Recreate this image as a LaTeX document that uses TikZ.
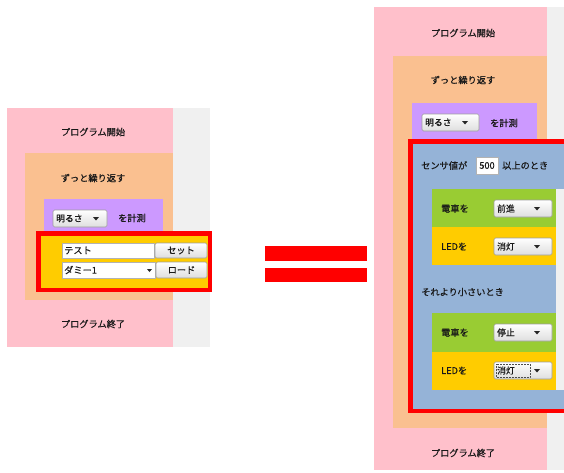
\documentclass[tikz,border=0pt]{standalone}
\usepackage{fontspec}
\setmainfont{Noto Sans CJK JP}[FakeBold=0.6]
\begin{document}
\begin{tikzpicture}[x=1pt,y=-1pt,
  lbl/.style={inner sep=0pt,font=\fontsize{9.2}{10}\selectfont,text=black!90},
  lblw/.style={lbl,anchor=west},
  ddbox/.style={draw=black!38,rounded corners=1.5pt,top color=white,bottom color=black!13,line width=0.6pt},
  tbox/.style={draw=black!30,fill=white,line width=0.6pt},
  redframe/.style={draw=red,line width=4.5pt}
]
\definecolor{cpink}{HTML}{FFC0CB}
\definecolor{corange}{HTML}{FAC090}
\definecolor{cpurple}{HTML}{CC99FF}
\definecolor{cyellow}{HTML}{FFCC00}
\definecolor{cgreen}{HTML}{99CC33}
\definecolor{cblue}{HTML}{95B3D7}
\definecolor{cgray}{HTML}{F0F0F0}
\useasboundingbox (0,0) rectangle (564,472);
\clip (0,0) rectangle (564,472);
\newcommand{\ddown}[6]{% name x1 y1 x2 y2 text
  \path[ddbox] (#2,#3) rectangle (#4,#5);
  \node[lblw,font=\fontsize{8.8}{10}\selectfont] (#1) at ({#2+3},{(#3+#5)/2}) {#6};
  \fill[black!85] ({#2+40},{(#3+#5)/2-1.5}) -- ++(6,0) -- ++(-3,3.5) -- cycle;
}
% ---------- left panel ----------
\fill[cgray] (7,108) rectangle (210,347);
\fill[cpink] (7,108) rectangle (173,347);
\fill[corange] (25,153) rectangle (173,300);
\fill[cpurple] (44,199) rectangle (163,236);
\fill[cyellow] (38,233) rectangle (210,290);
\node[lbl] (lstart) at (93,132) {プログラム開始};
\node[lbl] (lloop) at (93,178) {ずっと繰り返す};
\ddown{lbright}{53}{210}{107}{227}{明るさ}
\node[lbl] (lmeasure) at (132,218) {を計測};
\path[tbox] (62,243) rectangle (154,258);
\node[lblw] (ltest) at (64,250.5) {テスト};
\path[ddbox] (155,243) rectangle (207,258);
\node[lbl] (lset) at (181,250.5) {セット};
\path[tbox] (62,262) rectangle (155,278);
\node[lblw] (ldummy) at (64,270) {ダミー1};
\fill[black!85] (147,269) -- ++(5,0) -- ++(-2.5,3) -- cycle;
\path[ddbox] (156,262) rectangle (207,278);
\node[lbl] (lload) at (181.5,270) {ロード};
\draw[redframe] (38.25,233.25) rectangle (209.75,289.75);
\node[lbl] (lend) at (93,324) {プログラム終了};
% ---------- equal sign ----------
\fill[red] (265,246) rectangle (367,261);
\fill[red] (265,268) rectangle (367,282);
% ---------- right panel ----------
\fill[cgray] (374,7) rectangle (564,470);
\fill[cpink] (374,7) rectangle (547,470);
\fill[corange] (393,56) rectangle (547,428);
\fill[cpurple] (412,103) rectangle (537,141);
\fill[cblue] (410,141) rectangle (570,411);
\fill[cgray] (556,189) rectangle (570,390);
\fill[cgreen] (432,189) rectangle (556,227);
\fill[cyellow] (432,227) rectangle (556,265);
\fill[cgreen] (432,313) rectangle (556,352);
\fill[cyellow] (432,352) rectangle (556,390);
\node[lbl] (rstart) at (463,33) {プログラム開始};
\node[lbl] (rloop) at (463,80) {ずっと繰り返す};
\ddown{rbright}{422}{114}{479}{131}{明るさ}
\node[lbl] (rmeasure) at (504,123) {を計測};
\node[lblw] (rsensor) at (421,165.5) {センサ値が};
\path[tbox] (476,157) rectangle (498,174);
\node[lbl] (rval) at (487,165.5) {500};
\node[lblw] (rabove) at (502,165.5) {以上のとき};
\node[lblw] (rtrain1) at (441,208.5) {電車を};
\ddown{rfwd}{494}{200}{552}{217}{前進}
\node[lblw] (rled1) at (441,246.5) {LEDを};
\ddown{roff1}{494}{238}{552}{255}{消灯}
\node[lblw] (rless) at (421,292) {それより小さいとき};
\node[lblw] (rtrain2) at (441,332.5) {電車を};
\ddown{rstop}{494}{324}{552}{341}{停止}
\node[lblw] (rled2) at (441,370.5) {LEDを};
\ddown{roff2}{494}{362}{552}{379}{消灯}
\draw[black!70,densely dotted,line width=0.5pt] (496,364) rectangle (530,377);
\draw[redframe] (410.25,141.25) rectangle (580,410.75);
\node[lbl] (rend) at (463,453) {プログラム終了};
\end{tikzpicture}
\end{document}
